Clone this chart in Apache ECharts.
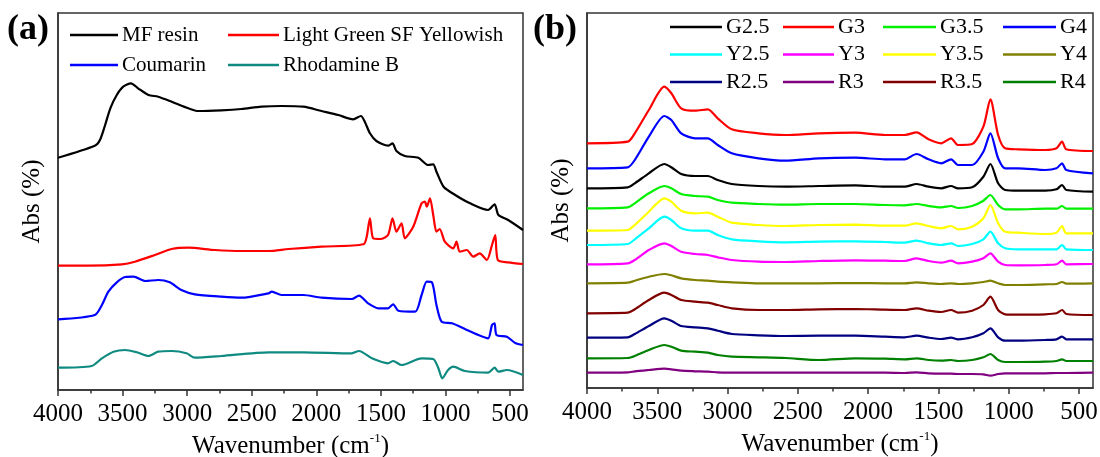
<!DOCTYPE html>
<html>
<head>
<meta charset="utf-8">
<script src="https://cdn.jsdelivr.net/npm/echarts@6/dist/echarts.min.js"></script>
<style>
  html, body { margin: 0; padding: 0; background: #fff; }
  #chart { width: 1100px; height: 457px; }
</style>
</head>
<body>
<div id="chart"></div>
<script>
// tick positions (cm-1)
const tickLabels = [4000, 3500, 3000, 2500, 2000, 1500, 1000, 500]
const minorTicks = [3750, 3250, 2750, 2250, 1750, 1250, 750]

// panel (a) - pure dyes and resin
const mfWave = [4000, 3715, 3675, 3635, 3595, 3545, 3495, 3435, 3380, 3300, 3225, 3120, 2990, 2915, 2735, 2580, 2425, 2270, 2100, 1960, 1830, 1715, 1655, 1625, 1585, 1535, 1445, 1410, 1380, 1315, 1210, 1135, 1095, 1070, 1015, 925, 810, 670, 620, 590, 515, 400]
const mfAbs = [232.3, 244.3, 250, 265, 281.7, 295, 303.3, 306.7, 301.7, 295, 293.3, 288.3, 281.7, 279, 279.7, 281, 283.3, 284, 283.3, 279, 275, 270.7, 274, 268.3, 256.7, 249, 244.3, 246.7, 239, 234, 232.3, 225, 225.7, 218.3, 203.3, 195, 186.7, 180, 185.7, 175, 170, 160]

const lgWave = [4000, 3765, 3505, 3405, 3250, 3120, 2990, 2785, 2580, 2370, 2215, 1960, 1635, 1610, 1585, 1560, 1505, 1445, 1410, 1380, 1340, 1315, 1250, 1185, 1160, 1145, 1120, 1095, 1070, 1045, 1005, 940, 915, 890, 835, 785, 735, 680, 640, 615, 595, 515, 400]
const lgAbs = [124.3, 124.3, 125.7, 128.3, 135, 141, 142.3, 140, 139, 139, 141, 143.3, 145.7, 153.3, 171.7, 151.7, 151, 155, 171.7, 158.3, 166.7, 151.7, 163.3, 186.7, 188.3, 183.3, 191.7, 175, 158.3, 161, 148.3, 141.7, 148.3, 138.3, 140, 133.3, 136.7, 130, 145, 155, 130, 127.7, 126]

const coWave = [4000, 3715, 3660, 3610, 3545, 3480, 3415, 3325, 3225, 3135, 3045, 2940, 2735, 2580, 2370, 2345, 2270, 2100, 1960, 1725, 1670, 1600, 1520, 1445, 1405, 1365, 1235, 1185, 1145, 1105, 1070, 1030, 950, 850, 745, 670, 640, 620, 605, 525, 460, 400]
const coAbs = [70.7, 75, 85, 98.3, 107.7, 113, 113.3, 109, 110, 107.7, 100, 95.7, 93.3, 92.3, 96.7, 98.3, 95, 95, 92.3, 91, 94.3, 86.7, 81.7, 81.7, 85.7, 79.3, 78.3, 95, 108.3, 107.7, 85, 68.3, 66.7, 61, 55, 51.7, 65, 66.7, 55, 53.3, 47, 45]

const rbWave = [4000, 3740, 3660, 3570, 3480, 3390, 3300, 3225, 3120, 3005, 2940, 2735, 2370, 2100, 1725, 1670, 1570, 1445, 1405, 1340, 1185, 1095, 1055, 1025, 980, 940, 850, 670, 620, 590, 525, 400]
const rbAbs = [22.3, 24, 31.7, 38.3, 40, 37.7, 34, 38.3, 39, 36.7, 32.3, 34, 37.7, 37.7, 36.7, 39, 31.7, 26.7, 29, 25, 31.7, 31, 21.7, 11.7, 20, 23.3, 19, 17.3, 22.3, 18.3, 20, 15]

// panel (b) - coated samples, shared wavenumber grid
const wave = [4000, 3710, 3660, 3560, 3450, 3400, 3330, 3230, 3140, 3070, 2970, 2780, 2590, 2350, 2090, 1880, 1740, 1655, 1570, 1480, 1410, 1360, 1260, 1180, 1130, 1075, 1025, 930, 740, 660, 620, 590, 400]
const g25 = [199.7, 200.7, 204.7, 214.7, 224, 220.7, 214, 212, 212, 208, 204, 202, 201.3, 202, 202.7, 201.3, 201.3, 204, 201.3, 199.7, 202, 199.7, 200.7, 211.3, 224, 204.7, 198, 197.3, 197.3, 198.7, 203, 198, 196.3]
const g3 = [244.7, 246.3, 254.7, 278, 301.3, 294.7, 279.7, 277.3, 278.7, 269.7, 258.7, 254.7, 253, 254.7, 255.3, 253, 253, 255.7, 248.7, 244.7, 249.7, 243, 244, 261.3, 288.7, 253, 239.7, 238.7, 238, 239.7, 246.3, 238.7, 237]
const g35 = [179.7, 180.7, 184.7, 194.7, 202, 199.7, 194, 192, 191.3, 188, 185.3, 184, 183.3, 184, 184, 183, 182.7, 184, 182, 180.7, 182, 180, 182, 187.3, 193, 183, 178.7, 178.7, 179.3, 179.3, 182, 179.3, 179.3]
const g4 = [219.7, 220.7, 228, 251.3, 272, 268, 254.7, 249.7, 249.7, 243, 234.7, 229.7, 227.3, 229.7, 230.3, 228.7, 228.7, 234, 228.7, 224.7, 228.7, 223, 223, 236.3, 254.7, 229.7, 219.7, 219.7, 218, 219.7, 224.7, 218, 214.7]
const y25 = [143, 144, 148.7, 159.7, 171.3, 168, 159.7, 157.3, 157.3, 153, 148.7, 146.7, 145.7, 146.3, 146.7, 146, 145.3, 147.3, 144.7, 143, 144.7, 142, 144, 148.7, 156.3, 144.7, 139.7, 138.7, 138.7, 138.7, 143, 138.7, 138]
const y3 = [123.7, 124.7, 128, 138, 144.7, 142, 136.3, 134, 133, 130.7, 128, 126.3, 126, 127, 127.7, 127.3, 127, 129.7, 127, 125.3, 127.3, 124.7, 126.3, 129.7, 134.7, 126.3, 123, 122.7, 123, 123.7, 127.3, 123.7, 124]
const y35 = [157.3, 158, 163, 176.3, 189.7, 186.3, 177.3, 174.7, 175.3, 171.3, 165.3, 163, 162, 163, 163.3, 162.3, 162.3, 164.7, 162, 159.7, 162, 158.7, 161.3, 169.7, 183, 164.7, 156.3, 155.3, 154, 155.3, 162, 154.7, 154.7]
const y4 = [104.7, 105.3, 107.3, 111.3, 114, 112.7, 109.7, 108, 107.3, 106.3, 105.7, 104.7, 104.7, 104.7, 105, 104.7, 104.7, 105.7, 104.7, 104, 104.7, 104, 104.7, 106, 107.3, 104.7, 103, 103, 103.7, 104, 106, 104.3, 104.7]
const r25 = [50.3, 50.7, 54, 62, 69.7, 67.3, 62, 60.7, 59.7, 57.3, 54, 52.7, 52, 52.3, 52.3, 51.3, 50.7, 52.3, 50.3, 49, 50.3, 48.7, 50.7, 54.7, 59.7, 50.7, 47.3, 47.3, 48, 48.7, 51.3, 48.7, 48.7]
const r3 = [15.3, 15.7, 16.7, 18, 19.3, 18.7, 17.3, 16.7, 16.3, 15.7, 15.3, 15.3, 15.3, 15.3, 15.3, 15.3, 15, 15.7, 14.7, 14.3, 14.3, 14, 14, 13.7, 12.3, 14, 14.7, 14.7, 14.7, 15, 15, 15, 15.3]
const r35 = [74.7, 75.3, 78.7, 88, 95.3, 93, 88, 86.3, 85.3, 83, 79.7, 78, 78, 78.7, 79, 78.3, 78, 79.7, 77.3, 76, 78, 75.3, 77.3, 83, 91.3, 78, 73.7, 73.3, 73.7, 74.7, 78, 74, 73]
const r4 = [29.7, 30, 32, 38, 43, 41.3, 37.3, 36.3, 35.3, 33, 31.3, 30.7, 30, 28, 29.7, 29.3, 28.7, 29.7, 28, 27.3, 28, 27, 28, 30.7, 34, 28, 26, 26, 26.3, 27, 28.7, 27, 27]

const font = 'Liberation Serif'
const pairs = (xs, ys) => xs.map((x, i) => [x, ys[i]])

function line (name, color, xIdx, data) {
  return {
    name: name,
    type: 'line',
    xAxisIndex: xIdx,
    yAxisIndex: xIdx / 2,
    symbol: 'none',
    smooth: 0.25,
    lineStyle: { width: 2.2, color: color },
    itemStyle: { color: color },
    data: data
  }
}

function xAxes (gridIndex) {
  const common = {
    gridIndex: gridIndex,
    type: 'value',
    min: 400,
    max: 4000,
    inverse: true,
    position: 'bottom',
    splitLine: { show: false }
  }
  return [
    Object.assign({}, common, {
      name: '{t|Wavenumber (cm}{s|-1}{t|)}',
      nameLocation: 'middle',
      nameGap: 42,
      nameTextStyle: {
        rich: {
          t: { fontFamily: font, fontSize: 25, color: '#000', lineHeight: 28 },
          s: { fontFamily: font, fontSize: 13, color: '#000', lineHeight: 28, verticalAlign: 'top', padding: [0, 0, 10, 0] }
        }
      },
      axisLine: { lineStyle: { color: '#333', width: 1.5 } },
      axisTick: { customValues: tickLabels, length: 6, lineStyle: { color: '#333', width: 1.5 } },
      axisLabel: {
        customValues: tickLabels,
        formatter: v => String(v),
        margin: 12,
        fontFamily: font,
        fontSize: 25,
        color: '#000'
      }
    }),
    Object.assign({}, common, {
      axisLine: { show: false },
      axisTick: { customValues: minorTicks, length: 3.5, lineStyle: { color: '#333', width: 1.5 } },
      axisLabel: { show: false }
    })
  ]
}

function yAxis (gridIndex, max) {
  return {
    gridIndex: gridIndex,
    type: 'value',
    min: 0,
    max: max,
    name: 'Abs (%)',
    nameLocation: 'middle',
    nameGap: 13,
    nameTextStyle: { fontFamily: font, fontSize: 25, color: '#000' },
    axisLine: { show: true, lineStyle: { color: '#333', width: 1.5 } },
    axisTick: { show: false },
    axisLabel: { show: false },
    splitLine: { show: false }
  }
}

function legend (left, top, names, size, width, gap) {
  return {
    left: left,
    top: top,
    orient: 'vertical',
    padding: 0,
    icon: 'rect',
    itemWidth: width,
    itemHeight: 2.5,
    itemGap: gap,
    data: names,
    textStyle: { fontFamily: font, fontSize: size, color: '#000', lineHeight: 22, padding: [0, 0, 0, -1] }
  }
}

const chart = echarts.init(document.getElementById('chart'))

chart.setOption({
  animation: false,
  title: [
    { text: '(a)', left: 7, top: 12, padding: 0, textStyle: { fontFamily: font, fontWeight: 'bold', fontSize: 36, color: '#000' } },
    { text: '(b)', left: 533, top: 12, padding: 0, textStyle: { fontFamily: font, fontWeight: 'bold', fontSize: 36, color: '#000' } }
  ],
  grid: [
    { left: 58, top: 13, width: 465, height: 377, outerBoundsMode: 'none', show: true, borderColor: '#333', borderWidth: 1.5 },
    { left: 587, top: 13, width: 506, height: 375, outerBoundsMode: 'none', show: true, borderColor: '#333', borderWidth: 1.5 }
  ],
  legend: [
    legend(70, 24, ['MF resin', 'Coumarin'], 21, 48, 8),
    legend(228, 24, ['Light Green SF Yellowish', 'Rhodamine B'], 21, 51, 8),
    legend(670, 16, ['G2.5', 'Y2.5', 'R2.5'], 22, 52, 5.5),
    legend(783, 16, ['G3', 'Y3', 'R3'], 22, 51, 5.5),
    legend(883, 16, ['G3.5', 'Y3.5', 'R3.5'], 22, 53, 5.5),
    legend(1003, 16, ['G4', 'Y4', 'R4'], 22, 53, 5.5)
  ],
  xAxis: xAxes(0).concat(xAxes(1)),
  yAxis: [yAxis(0, 377), yAxis(1, 375)],
  series: [
    line('MF resin', '#000000', 0, pairs(mfWave, mfAbs)),
    line('Light Green SF Yellowish', '#ff0000', 0, pairs(lgWave, lgAbs)),
    line('Coumarin', '#0000ff', 0, pairs(coWave, coAbs)),
    line('Rhodamine B', '#0f8a80', 0, pairs(rbWave, rbAbs)),
    line('G2.5', '#000000', 2, pairs(wave, g25)),
    line('G3', '#ff0000', 2, pairs(wave, g3)),
    line('G3.5', '#00f000', 2, pairs(wave, g35)),
    line('G4', '#0000ff', 2, pairs(wave, g4)),
    line('Y2.5', '#00ffff', 2, pairs(wave, y25)),
    line('Y3', '#ff00ff', 2, pairs(wave, y3)),
    line('Y3.5', '#ffff00', 2, pairs(wave, y35)),
    line('Y4', '#808000', 2, pairs(wave, y4)),
    line('R2.5', '#000080', 2, pairs(wave, r25)),
    line('R3', '#800080', 2, pairs(wave, r3)),
    line('R3.5', '#800000', 2, pairs(wave, r35)),
    line('R4', '#008000', 2, pairs(wave, r4))
  ]
})
</script>
</body>
</html>
